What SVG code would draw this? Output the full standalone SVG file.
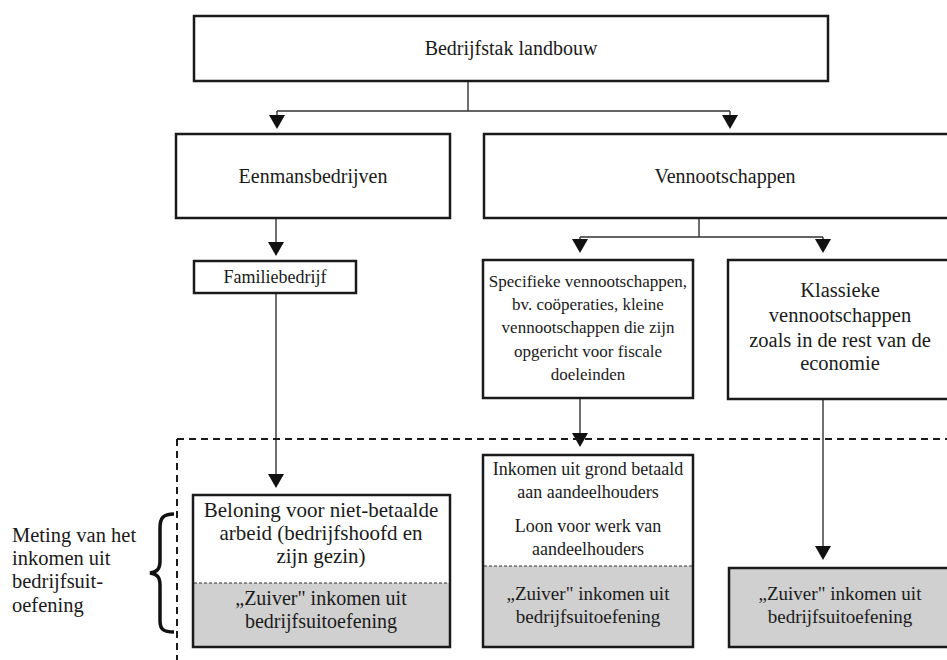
<svg xmlns="http://www.w3.org/2000/svg" width="947" height="660" viewBox="0 0 947 660">
<defs>
<style>
.box{fill:#fff;stroke:#1a1a1a;stroke-width:2.5}
.gray{fill:#d0d0d0;stroke:none}
.frame{fill:none;stroke:#1a1a1a;stroke-width:2.5}
.div{stroke:#333;stroke-width:1.2;stroke-dasharray:3,2;fill:none}
.t{font-family:"Liberation Serif","Times New Roman",serif;fill:#1a1a1a;text-anchor:middle}
.s21{font-size:21px}
.s20{font-size:20px}
.s19{font-size:19px}
.s18{font-size:18px}
.s17{font-size:17px}
.conn{stroke:#333;stroke-width:1.4;fill:none}
.dash{stroke:#1a1a1a;stroke-width:2;stroke-dasharray:7,5;fill:none}
.head{fill:#111}
</style>
</defs>

<g id="connectors">
<path class="conn" d="M468,81 V111 M277,111 H730 M277,111 V120 M730,111 V120"/>
<polygon class="head" points="269,115 285,115 277,129"/>
<polygon class="head" points="722,115 738,115 730,129"/>
<path class="conn" d="M276,218 V250"/>
<polygon class="head" points="268,242 284,242 276,256"/>
<path class="conn" d="M699,218 V237 M580,237 H823 M580,237 V245 M823,237 V245"/>
<polygon class="head" points="572,239 588,239 580,253"/>
<polygon class="head" points="815,239 831,239 823,253"/>
<path class="conn" d="M276,293 V480"/>
<polygon class="head" points="268,474 284,474 276,488"/>
<path class="conn" d="M580,398 V440"/>
<polygon class="head" points="572,433 588,433 580,447"/>
<path class="conn" d="M823,399 V552"/>
<polygon class="head" points="815,546 831,546 823,560"/>
</g>

<g id="boundary">
<path class="dash" d="M177,439 H947 M177,439 V660"/>
</g>

<g id="bedrijfstak">
<rect class="box" x="194" y="16" width="634" height="65"/>
<text class="t s20" x="511" y="55">Bedrijfstak landbouw</text>
</g>

<g id="eenmans">
<rect class="box" x="176" y="134" width="274" height="84"/>
<text class="t s20" x="313" y="183">Eenmansbedrijven</text>
</g>

<g id="vennootschappen">
<rect class="box" x="484" y="134" width="482" height="84"/>
<text class="t s20" x="725" y="183">Vennootschappen</text>
</g>

<g id="familiebedrijf">
<rect class="box" x="194" y="261" width="162" height="32"/>
<text class="t s18" x="275" y="283">Familiebedrijf</text>
</g>

<g id="specifieke">
<rect class="box" x="483" y="260" width="210" height="138"/>
<text class="t s17" x="588"><tspan x="588" y="287">Specifieke vennootschappen,</tspan><tspan x="588" y="310">bv. coöperaties, kleine</tspan><tspan x="588" y="333">vennootschappen die zijn</tspan><tspan x="588" y="357">opgericht voor fiscale</tspan><tspan x="588" y="380">doeleinden</tspan></text>
</g>

<g id="klassieke">
<rect class="box" x="728" y="260" width="226" height="139"/>
<text class="t" font-size="20.5" x="840"><tspan x="840" y="297">Klassieke</tspan><tspan x="840" y="322">vennootschappen</tspan><tspan x="840" y="347">zoals in de rest van de</tspan><tspan x="840" y="370">economie</tspan></text>
</g>

<g id="beloning">
<rect x="193" y="583" width="257" height="64" class="gray"/>
<rect class="frame" x="193" y="495" width="257" height="152"/>
<line class="div" x1="194" y1="583" x2="449" y2="583"/>
<text class="t s21" x="321"><tspan x="321" y="517">Beloning voor niet-betaalde</tspan><tspan x="321" y="540">arbeid (bedrijfshoofd en</tspan><tspan x="321" y="563">zijn gezin)</tspan></text>
<text class="t s20" x="321"><tspan x="321" y="605">„Zuiver" inkomen uit</tspan><tspan x="321" y="628">bedrijfsuitoefening</tspan></text>
</g>

<g id="inkomen">
<rect x="483" y="566" width="210" height="81" class="gray"/>
<rect class="frame" x="483" y="455" width="210" height="192"/>
<line class="div" x1="484" y1="566" x2="692" y2="566"/>
<text class="t s18" x="588"><tspan x="588" y="475">Inkomen uit grond betaald</tspan><tspan x="588" y="498">aan aandeelhouders</tspan><tspan x="588" y="532">Loon voor werk van</tspan><tspan x="588" y="555">aandeelhouders</tspan></text>
<text class="t s19" x="588"><tspan x="588" y="600">„Zuiver" inkomen uit</tspan><tspan x="588" y="623">bedrijfsuitoefening</tspan></text>
</g>

<g id="zuiver-klassiek">
<rect x="729" y="568" width="225" height="79" class="gray"/>
<rect class="frame" x="729" y="568" width="225" height="79"/>
<text class="t s19" x="840"><tspan x="840" y="600">„Zuiver" inkomen uit</tspan><tspan x="840" y="623">bedrijfsuitoefening</tspan></text>
</g>

<g id="meting">
<path d="M174,514 C163,514 160,518 160,528 L160,561 C160,569 157,572 150,573 C157,574 160,577 160,585 L160,621 C160,629 163,632 174,632" fill="none" stroke="#111" stroke-width="3.5"/>
<text font-size="20.5" font-family="Liberation Serif, Times New Roman, serif" fill="#1a1a1a" x="12"><tspan x="12" y="542">Meting van het</tspan><tspan x="12" y="565">inkomen uit</tspan><tspan x="12" y="588">bedrijfsuit-</tspan><tspan x="12" y="612">oefening</tspan></text>
</g>
</svg>
